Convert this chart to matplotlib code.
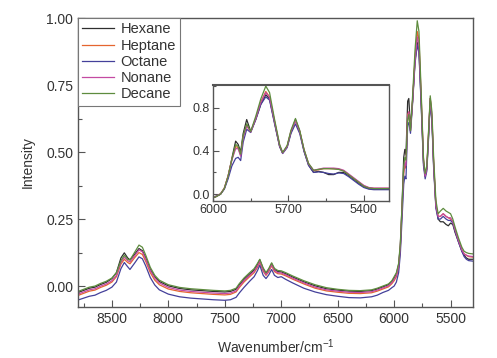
import matplotlib
matplotlib.use("Agg")
import matplotlib.pyplot as plt
from matplotlib.ticker import MultipleLocator

plt.rcParams['font.family'] = ['Liberation Sans', 'DejaVu Sans']
plt.rcParams['mathtext.fontset'] = 'custom'
plt.rcParams['mathtext.rm'] = 'Liberation Sans'
plt.rcParams['mathtext.default'] = 'rm'

names = ['Hexane', 'Heptane', 'Octane', 'Nonane', 'Decane']
colors = ['#2e2e2e', '#e5652f', '#44409a', '#c44aa2', '#5e8c3e']

# main spectrum (wavenumber, cm-1)
wn = [8800, 8750, 8700, 8650, 8600, 8550, 8500, 8460, 8420, 8390, 8360, 8340,
      8300, 8260, 8230, 8200, 8160, 8120, 8080, 8000, 7900, 7800, 7700, 7600,
      7500, 7450, 7400, 7370, 7330, 7280, 7240, 7210, 7190, 7160, 7135, 7110,
      7085, 7060, 7030, 7000, 6960, 6900, 6800, 6700, 6600, 6500, 6400, 6300,
      6200, 6150, 6100, 6050, 6020, 6000, 5980, 5960, 5945, 5930, 5915, 5905,
      5895, 5880, 5870, 5855, 5835, 5815, 5795, 5780, 5760, 5740, 5725, 5710,
      5695, 5680, 5665, 5650, 5630, 5610, 5590, 5565, 5540, 5520, 5500, 5480,
      5460, 5430, 5400, 5380, 5360, 5340, 5300]

hexane = [-.024, -.016, -.008, -.004, .006, .014, .028, .050, .105, .124, .105, .098,
          .118, .140, .132, .105, .062, .034, .017, .001, -.009, -.014, -.017, -.020,
          -.022, -.020, -.012, .005, .025, .045, .060, .080, .098, .064, .047, .062,
          .084, .062, .054, .053, .046, .034, .016, .001, -.010, -.015, -.019, -.020,
          -.017, -.011, -.003, .005, .017, .030, .045, .080, .150, .300, .480, .510,
          .490, .690, .700, .590, .700, .840, .910, .880, .680, .460, .410, .440,
          .560, .700, .620, .450, .300, .250, .240, .240, .230, .225, .235, .230,
          .200, .165, .130, .115, .105, .100, .100]

heptane = [-.035, -.027, -.019, -.015, -.005, .003, .015, .035, .082, .100, .088, .083,
           .105, .125, .118, .092, .050, .022, .005, -.011, -.020, -.025, -.028, -.031,
           -.033, -.031, -.022, -.005, .015, .035, .050, .070, .088, .056, .040, .054,
           .076, .054, .046, .045, .038, .026, .008, -.008, -.018, -.023, -.027, -.028,
           -.025, -.019, -.011, -.003, .009, .020, .035, .070, .140, .280, .420, .450,
           .440, .640, .650, .580, .700, .850, .950, .920, .700, .470, .410, .440,
           .570, .700, .630, .460, .300, .260, .260, .270, .260, .255, .250, .240,
           .210, .170, .135, .120, .115, .110, .108]

octane = [-.052, -.045, -.038, -.034, -.024, -.016, -.004, .015, .065, .088, .072, .062,
          .085, .109, .102, .075, .032, .004, -.014, -.030, -.040, -.045, -.048, -.051,
          -.053, -.051, -.042, -.025, -.005, .018, .035, .058, .078, .040, .028, .042,
          .062, .040, .032, .035, .025, .012, -.008, -.022, -.032, -.038, -.043, -.044,
          -.040, -.034, -.024, -.016, -.006, .000, .015, .050, .120, .250, .380, .410,
          .400, .600, .610, .570, .690, .830, .900, .870, .670, .450, .400, .430,
          .550, .690, .610, .440, .290, .250, .250, .260, .250, .245, .245, .235,
          .205, .165, .130, .110, .100, .095, .093]

nonane = [-.030, -.022, -.014, -.010, .000, .008, .020, .040, .088, .108, .095, .090,
          .112, .135, .128, .100, .058, .030, .012, -.005, -.015, -.020, -.023, -.026,
          -.028, -.026, -.018, .000, .020, .040, .055, .075, .093, .060, .043, .058,
          .080, .058, .050, .049, .042, .030, .012, -.004, -.014, -.019, -.023, -.024,
          -.021, -.015, -.007, .001, .013, .025, .040, .075, .150, .290, .430, .460,
          .450, .630, .650, .580, .700, .840, .930, .900, .700, .470, .410, .440,
          .570, .700, .630, .460, .300, .260, .260, .270, .260, .255, .255, .240,
          .210, .170, .135, .120, .115, .112, .110]

decane = [-.020, -.012, -.004, .000, .010, .018, .030, .050, .095, .115, .100, .097,
          .125, .153, .145, .115, .070, .040, .022, .005, -.005, -.010, -.013, -.016,
          -.018, -.016, -.008, .010, .030, .050, .065, .085, .100, .068, .050, .066,
          .087, .066, .058, .057, .050, .038, .020, .005, -.006, -.012, -.016, -.017,
          -.014, -.008, .000, .008, .020, .035, .050, .085, .160, .300, .450, .480,
          .470, .620, .640, .580, .720, .880, .990, .950, .720, .480, .420, .450,
          .580, .710, .650, .480, .320, .270, .280, .290, .280, .275, .270, .250,
          .220, .180, .145, .130, .125, .122, .120]

# inset (6000-5300 cm-1)
wn_in = [6000, 5990, 5970, 5955, 5940, 5925, 5910, 5900, 5890, 5880, 5866, 5850,
         5830, 5810, 5790, 5775, 5755, 5735, 5723, 5705, 5690, 5672, 5655, 5638,
         5620, 5600, 5580, 5560, 5540, 5520, 5500, 5480, 5460, 5440, 5420, 5400,
         5380, 5360, 5330, 5300]

hexane_in = [-.035, -.028, -.002, .050, .160, .330, .490, .460, .390, .560, .690, .580,
             .690, .830, .920, .880, .660, .440, .380, .440, .570, .690, .580, .400,
             .270, .200, .210, .200, .180, .180, .200, .200, .170, .135, .100, .068,
             .050, .045, .045, .045]

heptane_in = [-.030, -.024, .002, .055, .170, .320, .440, .430, .360, .530, .640, .575,
              .700, .850, .950, .900, .670, .450, .380, .440, .580, .680, .580, .410,
              .280, .215, .225, .235, .235, .235, .230, .215, .180, .145, .110, .075,
              .058, .052, .052, .052]

octane_in = [-.028, -.022, .000, .045, .140, .260, .330, .340, .310, .480, .600, .570,
             .690, .830, .900, .870, .650, .440, .375, .430, .560, .650, .560, .395,
             .265, .200, .205, .200, .190, .185, .195, .190, .160, .125, .090, .060,
             .045, .040, .040, .040]

nonane_in = [-.030, -.024, .000, .052, .165, .315, .420, .420, .350, .520, .630, .575,
             .700, .850, .940, .895, .670, .450, .380, .440, .580, .680, .580, .410,
             .280, .220, .230, .240, .240, .240, .235, .220, .185, .150, .115, .080,
             .060, .055, .055, .055]

decane_in = [-.032, -.026, -.001, .052, .165, .320, .460, .440, .370, .540, .650, .580,
             .720, .880, 1.000, .940, .690, .460, .385, .450, .590, .700, .590, .415,
             .285, .220, .228, .235, .235, .232, .228, .212, .178, .142, .108, .072,
             .055, .050, .050, .050]

main_series = [hexane, heptane, octane, nonane, decane]
inset_series = [hexane_in, heptane_in, octane_in, nonane_in, decane_in]

fig = plt.figure(figsize=(4.97, 3.58), dpi=100)
ax = fig.add_axes([0.157, 0.1425, 0.795, 0.807])

for name, color, y in zip(names, colors, main_series):
    ax.plot(wn, y, color=color, lw=0.9, label=name)

ax.set_xlim(8800, 5300)
ax.set_ylim(-0.078, 1.0)
ax.xaxis.set_major_locator(MultipleLocator(500))
ax.xaxis.set_minor_locator(MultipleLocator(250))
ax.yaxis.set_major_locator(MultipleLocator(0.25))
ax.yaxis.set_minor_locator(MultipleLocator(0.125))
ax.yaxis.set_major_formatter(plt.FormatStrFormatter('%.2f'))
ax.tick_params(which='both', direction='in', colors='#555555',
               labelcolor='#333333', labelsize=10)
ax.tick_params(which='major', length=5, width=0.8)
ax.tick_params(which='minor', length=3, width=0.8)
for sp in ax.spines.values():
    sp.set_color('#555555')
    sp.set_linewidth(1.0)

ax.set_xlabel('Wavenumber/cm$^{-1}$', fontsize=10, color='#333333', labelpad=8)
ax.set_ylabel('Intensity', fontsize=10, color='#333333', labelpad=8)

leg = ax.legend(loc='upper left', borderaxespad=0, fancybox=False,
                framealpha=1, edgecolor='#777777', fontsize=10.5,
                handlelength=2.2, labelspacing=0.15, borderpad=0.3,
                handletextpad=0.4)
leg.get_frame().set_linewidth(0.8)
for t in leg.get_texts():
    t.set_color('#333333')

ins = fig.add_axes([0.4286, 0.4385, 0.354, 0.324])
for color, y in zip(colors, inset_series):
    ins.plot(wn_in, y, color=color, lw=0.9)
ins.set_xlim(6000, 5300)
ins.set_ylim(-0.065, 1.01)
ins.xaxis.set_major_locator(MultipleLocator(300))
ins.xaxis.set_minor_locator(MultipleLocator(150))
ins.yaxis.set_major_locator(MultipleLocator(0.4))
ins.yaxis.set_minor_locator(MultipleLocator(0.2))
ins.tick_params(which='both', direction='in', colors='#555555',
                labelcolor='#333333', labelsize=9, pad=2)
ins.tick_params(which='major', length=4, width=0.8)
ins.tick_params(which='minor', length=2, width=0.8)
for sp in ins.spines.values():
    sp.set_color('#555555')
    sp.set_linewidth(1.0)
ins.spines['top'].set_linewidth(1.5)

fig.savefig('out.png', dpi=100)
